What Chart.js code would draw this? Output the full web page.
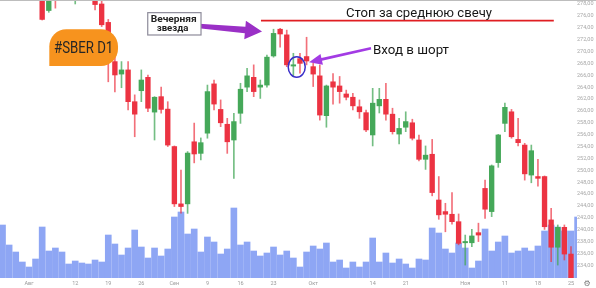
<!DOCTYPE html>
<html>
<head>
<meta charset="utf-8">
<script src="https://cdn.jsdelivr.net/npm/chart.js@4.4.1/dist/chart.umd.min.js"></script>
<style>
  html, body { margin: 0; padding: 0; background: #fff; overflow: hidden; }
  canvas { display: block; }
</style>
</head>
<body>
<canvas id="c" width="596" height="288"></canvas>
<script>
// SBER daily candles, 26 Jul – 26 Nov 2024
const dates = [
  '2024-07-26','2024-07-29','2024-07-30','2024-07-31',
  '2024-08-01','2024-08-02','2024-08-05','2024-08-06','2024-08-07','2024-08-08','2024-08-09',
  '2024-08-12','2024-08-13','2024-08-14','2024-08-15','2024-08-16','2024-08-19','2024-08-20',
  '2024-08-21','2024-08-22','2024-08-23','2024-08-26','2024-08-27','2024-08-28','2024-08-29','2024-08-30',
  '2024-09-02','2024-09-03','2024-09-04','2024-09-05','2024-09-06','2024-09-09','2024-09-10',
  '2024-09-11','2024-09-12','2024-09-13','2024-09-16','2024-09-17','2024-09-18','2024-09-19',
  '2024-09-20','2024-09-23','2024-09-24','2024-09-25','2024-09-26','2024-09-27','2024-09-30',
  '2024-10-01','2024-10-02','2024-10-03','2024-10-04','2024-10-07','2024-10-08','2024-10-09',
  '2024-10-10','2024-10-11','2024-10-14','2024-10-15','2024-10-16','2024-10-17','2024-10-18',
  '2024-10-21','2024-10-22','2024-10-23','2024-10-24','2024-10-25','2024-10-28','2024-10-29',
  '2024-10-30','2024-10-31',
  '2024-11-01','2024-11-02','2024-11-05','2024-11-06','2024-11-07','2024-11-08','2024-11-11',
  '2024-11-12','2024-11-13','2024-11-14','2024-11-15','2024-11-18','2024-11-19','2024-11-20',
  '2024-11-21','2024-11-22','2024-11-25','2024-11-26'
];

const open = [
  291.0,290.5,288.0,289.5,287.0,284.0,282.8,276.9,280.5,280.0,
  282.6,281.0,282.2,283.4,280.8,278.0,274.9,268.3,266.2,266.9,
  261.55,263.4,265.65,259.8,262.4,260.3,254.0,244.35,244.35,254.8,
  252.85,256.25,264.55,260.25,257.75,255.1,259.6,264.0,265.65,264.0,
  264.35,269.25,273.75,272.8,267.55,268.8,269.15,267.45,265.9,259.2,
  264.9,264.2,262.85,262.3,260.7,259.7,255.95,260.85,261.95,259.45,
  256.1,257.25,258.0,255.1,251.85,252.7,245.0,243.05,242.6,241.35,
  237.8,237.8,239.5,246.95,243.05,251.3,257.9,259.85,255.2,254.25,
  249.2,248.95,248.95,241.65,237.05,240.4,235.9,231.2
];
const high = [
  293.0,292.0,290.5,291.0,288.5,285.0,283.6,281.5,281.8,283.0,
  283.8,282.6,285.0,284.2,281.8,279.2,275.4,269.1,268.3,268.3,
  262.7,266.9,266.05,262.4,264.0,261.55,254.1,250.05,253.15,257.95,
  255.45,264.35,265.2,261.85,258.75,259.6,264.65,267.15,267.75,265.2,
  269.4,273.75,273.9,273.6,269.7,269.7,272.4,268.0,267.75,264.35,
  266.3,265.8,263.5,262.95,261.85,260.15,263.8,263.8,264.65,260.45,
  258.75,259.85,258.6,255.95,254.1,255.2,248.95,244.45,246.25,242.65,
  239.1,240.05,241.1,248.35,250.9,256.05,261.3,260.25,258.75,254.55,
  254.25,251.85,249.05,243.6,240.8,240.8,237.15,231.8
];
const low = [
  289.5,287.0,286.5,286.0,283.5,281.0,275.3,276.6,277.3,279.4,
  280.0,278.0,280.6,279.6,277.0,274.2,264.9,263.2,263.9,260.15,
  255.65,261.55,259.85,255.1,259.6,254.0,243.9,242.8,242.75,251.25,
  251.75,255.4,260.15,257.35,252.85,248.65,257.9,263.25,262.4,262.1,
  264.0,269.05,270.75,267.45,265.75,266.35,267.75,264.1,258.45,257.25,
  261.15,261.3,261.85,260.15,258.75,256.5,254.1,259.65,258.45,256.1,
  254.45,256.5,255.1,251.6,250.15,245.7,241.75,239.65,240.95,237.45,
  234.05,237.15,238.0,241.9,242.2,250.5,256.5,255.4,254.1,248.35,
  247.9,247.35,240.05,234.6,234.05,234.9,230.5,226.5
];
const close = [
  290.2,288.0,289.6,286.8,284.2,282.6,275.4,280.6,279.8,282.4,
  281.4,282.0,283.6,280.6,277.9,274.5,268.6,266.05,266.9,261.55,
  259.45,265.2,260.45,262.3,260.25,254.25,244.35,243.9,252.9,252.75,
  254.65,263.25,261.15,258.0,254.8,258.2,263.65,265.9,263.25,264.35,
  269.05,273.05,272.95,267.75,267.75,268.0,268.4,266.2,259.3,264.2,
  264.0,263.25,262.3,260.85,259.85,256.8,261.3,261.95,259.45,256.5,
  257.05,258.2,255.4,251.85,252.55,246.25,242.5,242.6,241.35,237.7,
  238.0,238.95,239.1,243.45,250.75,255.95,260.6,255.65,254.65,249.4,
  253.3,248.65,240.5,237.05,240.4,235.9,231.4,228.0
];
// traded volume, mln shares
const volume = [
  53,33,26,16,11,19,51,27,30,26,14,17,15,14,18,16,43,34,23,30,
  48,31,20,30,22,29,61,66,44,49,26,41,36,24,29,70,33,36,27,22,
  25,31,23,27,20,11,26,32,29,35,16,18,10,16,11,16,40,16,25,15,
  19,14,10,19,18,50,45,29,25,35,30,10,17,49,27,36,42,25,27,30,
  27,32,47,53,51,47,47,61
];

const priceTicks = [234,236,238,240,242,244,246,248,250,252,254,256,258,260,262,264,266,268,270,272,274,276,278];
const dateTickDays = ['2024-08-01','2024-08-12','2024-08-19','2024-08-26','2024-09-02','2024-09-09',
  '2024-09-16','2024-09-23','2024-10-01','2024-10-14','2024-10-21','2024-11-01','2024-11-11',
  '2024-11-18','2024-11-25'];
const dateTickText = ['Авг','12','19','26','Сен','9','16','23','Окт','14','21','Ноя','11','18','25'];

const stopLevel = 275.2;

const UP = '#45a859', DOWN = '#ec3342', VOL = '#8ea6f4';
const isUp = i => close[i] >= open[i];

const wickData = dates.map((d, i) => ({ x: i, y: [low[i], high[i]] }));
const bodyData = dates.map((d, i) => ({ x: i, y: [Math.min(open[i], close[i]), Math.max(open[i], close[i])] }));
const volData  = dates.map((d, i) => ({ x: i, y: volume[i] }));
const candleColors = dates.map((d, i) => isUp(i) ? UP : DOWN);
const wickColors = dates.map((d, i) => isUp(i) ? 'rgba(69,168,89,0.75)' : 'rgba(236,51,66,0.7)');

const FONT = 'Roboto, "Open Sans", "DejaVu Sans", sans-serif';

function fitText(ctx, text, left, right, baseline, size, weight, color) {
  ctx.font = weight + ' ' + size + 'px ' + FONT;
  const w = ctx.measureText(text).width;
  ctx.save();
  ctx.translate(left, baseline);
  ctx.scale((right - left) / w, 1);
  ctx.fillStyle = color;
  ctx.textAlign = 'left';
  ctx.textBaseline = 'alphabetic';
  ctx.fillText(text, 0, 0);
  ctx.restore();
}

function roundedBox(ctx, x0, y0, x1, y1, r) {
  const [tl, tr, br, bl] = r;
  ctx.beginPath();
  ctx.moveTo(x0 + tl, y0);
  ctx.lineTo(x1 - tr, y0);
  ctx.arcTo(x1, y0, x1, y0 + tr, tr);
  ctx.lineTo(x1, y1 - br);
  ctx.arcTo(x1, y1, x1 - br, y1, br);
  ctx.lineTo(x0 + bl, y1);
  if (bl) ctx.arcTo(x0, y1, x0, y1 - bl, bl); else ctx.lineTo(x0, y1);
  ctx.lineTo(x0, y0 + tl);
  ctx.arcTo(x0, y0, x0 + tl, y0, tl);
  ctx.closePath();
}

function arrow(ctx, x0, y0, x1, y1, tailHalf, neckHalf, headLen, headHalf, color) {
  const dx = x1 - x0, dy = y1 - y0, L = Math.hypot(dx, dy);
  const ux = dx / L, uy = dy / L, nx = -uy, ny = ux;
  const bx = x1 - ux * headLen, by = y1 - uy * headLen;
  ctx.beginPath();
  ctx.moveTo(x0 + nx * tailHalf, y0 + ny * tailHalf);
  ctx.lineTo(bx + nx * neckHalf, by + ny * neckHalf);
  ctx.lineTo(bx + nx * headHalf, by + ny * headHalf);
  ctx.lineTo(x1, y1);
  ctx.lineTo(bx - nx * headHalf, by - ny * headHalf);
  ctx.lineTo(bx - nx * neckHalf, by - ny * neckHalf);
  ctx.lineTo(x0 - nx * tailHalf, y0 - ny * tailHalf);
  ctx.closePath();
  ctx.fillStyle = color;
  ctx.fill();
}

// callouts drawn on top of the candles
const callouts = {
  id: 'callouts',
  afterDraw(chart) {
    const ctx = chart.ctx;
    const xs = chart.scales.x, ys = chart.scales.y;
    const X = v => xs.getPixelForValue(v), Y = v => ys.getPixelForValue(v);
    ctx.save();

    // frame line along the top
    ctx.fillStyle = '#bdbdbd';
    ctx.fillRect(0, 0, chart.width, 1);

    // stop level
    ctx.strokeStyle = '#e01e22';
    ctx.lineWidth = 1.6;
    ctx.beginPath();
    ctx.moveTo(X(39.1), Y(stopLevel));
    ctx.lineTo(X(83.4), Y(stopLevel));
    ctx.stroke();
    fitText(ctx, 'Стоп за среднюю свечу', X(51.97), X(74.05), Y(275.76), 12.7, '400', '#161616');

    // ticker badge
    roundedBox(ctx, X(7.08), Y(273.74), X(17.47), Y(267.56), [17, 17, 17, 0]);
    ctx.fillStyle = '#f7931e';
    ctx.fill();
    fitText(ctx, '#SBER D1', X(7.79), X(16.76), Y(269.70), 16.3, '400', '#262626');

    // pattern arrow and label
    arrow(ctx, X(29.73), Y(274.30), X(39.26), Y(273.37), 2.3, 3.3, 17, 9.3, '#9a30c6');
    ctx.fillStyle = '#ffffff';
    ctx.fillRect(X(21.97), Y(276.54), X(30.03) - X(21.97), Y(272.78) - Y(276.54));
    ctx.strokeStyle = '#8d8b9a';
    ctx.lineWidth = 1.2;
    ctx.strokeRect(X(21.97), Y(276.54), X(30.03) - X(21.97), Y(272.78) - Y(276.54));
    fitText(ctx, 'Вечерняя', X(22.42), X(29.38), Y(275.02), 9.4, '700', '#222222');
    fitText(ctx, 'звезда', X(23.33), X(28.11), Y(273.40), 9.4, '700', '#222222');

    // entry marker
    ctx.strokeStyle = '#3a2ec8';
    ctx.lineWidth = 1.5;
    ctx.beginPath();
    ctx.ellipse(X(44.51), Y(267.39), 8.5, 10.3, 0, 0, Math.PI * 2);
    ctx.stroke();
    arrow(ctx, X(55.75), Y(270.54), X(46.37), Y(268.19), 1.2, 1.4, 13, 5.6, '#a33be4');
    fitText(ctx, 'Вход в шорт', X(56.05), X(67.55), Y(269.58), 12.7, '400', '#161616');

    // settings glyph in the corner
    ctx.font = '8px "DejaVu Sans", sans-serif';
    ctx.fillStyle = '#7a7a7a';
    ctx.textAlign = 'center';
    ctx.textBaseline = 'middle';
    ctx.fillText('⚙', 587, 283.5);

    ctx.restore();
  }
};

new Chart(document.getElementById('c'), {
  type: 'bar',
  data: {
    datasets: [
      { label: 'Объём', data: volData, yAxisID: 'yv', backgroundColor: VOL,
        barThickness: 6, order: 3, clip: 0 },
      { label: 'Тени', data: wickData, yAxisID: 'y', backgroundColor: wickColors,
        barThickness: 1, order: 2, clip: 0 },
      { label: 'Тела', data: bodyData, yAxisID: 'y', backgroundColor: candleColors,
        barThickness: 4.7, minBarLength: 1.3, order: 1, clip: 0 }
    ]
  },
  options: {
    responsive: false,
    animation: false,
    devicePixelRatio: 1,
    layout: { padding: 0 },
    datasets: { bar: { grouped: false, borderWidth: 0 } },
    plugins: { legend: { display: false }, tooltip: { enabled: false } },
    scales: {
      x: {
        type: 'linear', min: -0.38, max: 86.91, offset: false,
        grid: { display: false, drawTicks: false, tickLength: 0 }, border: { display: false },
        afterBuildTicks: s => { s.ticks = dateTickDays.map(d => ({ value: dates.indexOf(d) })); },
        ticks: {
          autoSkip: false, maxRotation: 0, padding: 2,
          color: '#9a9a9a', font: { size: 5.5, family: FONT },
          callback: (v, k) => dateTickText[k]
        },
        afterFit: s => { s.height = 10; s.paddingLeft = 0; s.paddingRight = 0; }
      },
      y: {
        position: 'right', min: 231.87, max: 278.67,
        grid: { display: false, drawTicks: false, tickLength: 0 }, border: { display: false },
        afterBuildTicks: s => { s.ticks = priceTicks.map(v => ({ value: v })); },
        ticks: {
          padding: 0, color: '#a8a8a8', font: { size: 5.5, family: FONT },
          callback: v => v.toFixed(2).replace('.', ',')
        },
        afterFit: s => { s.width = 19; s.paddingTop = 0; s.paddingBottom = 0; }
      },
      yv: { display: false, min: 0, max: 278, ticks: { display: false }, afterFit: s => { s.width = 0; } }
    }
  },
  plugins: [callouts]
});
</script>
</body>
</html>
